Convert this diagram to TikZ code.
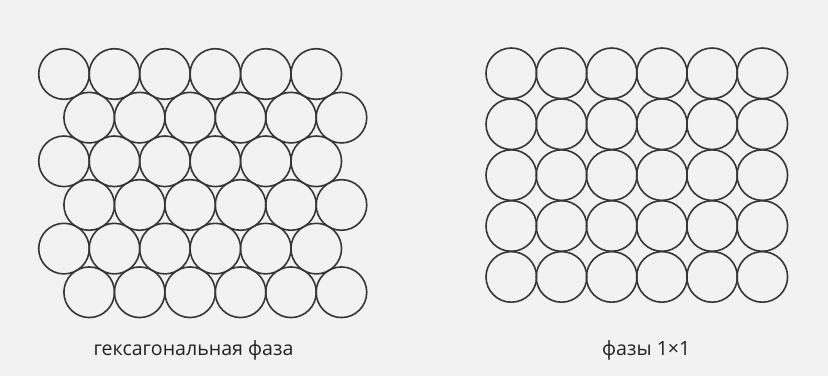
\documentclass[tikz,border=0pt]{standalone}
\usepackage{fontspec}
\setmainfont{Open Sans}
\definecolor{bgc}{HTML}{F2F2F2}
\definecolor{ink}{HTML}{363636}
\definecolor{txt}{HTML}{222222}
\begin{document}
\begin{tikzpicture}[x=1pt,y=-1pt,
  ball/.style={circle,draw=ink,line width=1.6pt,minimum size=50.6pt,inner sep=0pt},
  captext/.style={anchor=base,text=txt,font=\fontsize{19.6}{23}\selectfont,inner sep=0pt}]
\fill[bgc] (0,0) rectangle (828,376);
\useasboundingbox (0,0) rectangle (828,376);
% hexagonal phase
\foreach \r in {0,...,5}{
  \pgfmathsetmacro{\yy}{74+43.65*\r}
  \pgfmathsetmacro{\xo}{mod(\r,2)==0 ? 64 : 89.2}
  \foreach \c in {0,...,5}{
    \node[ball] (h\r\c) at ({\xo+50.45*\c},\yy) {};
  }
}
% square phase
\foreach \r in {0,...,4}{
  \foreach \c in {0,...,5}{
    \node[ball] (s\r\c) at ({511.3+50.2*\c},{73.3+50.9*\r}) {};
  }
}
\node[captext] (t1) at (193.5,355) {гексагональная фаза};
\node[captext] (t2) at (646.3,355) {фазы 1×1};
\end{tikzpicture}
\end{document}
